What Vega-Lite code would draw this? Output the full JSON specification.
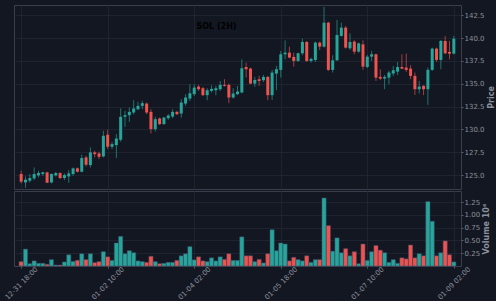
{
"$schema": "https://vega.github.io/schema/vega-lite/v6.json",
"background": "#131722",
"padding": {"left": 2, "top": 4, "right": 0, "bottom": 0},
"spacing": 0,
"datasets": {"candles": [
{"t":"2024-12-31T18:00","open":125.11,"high":125.47,"low":124.08,"close":124.27,"volume":86000},
{"t":"2024-12-31T20:00","open":124.19,"high":124.85,"low":123.61,"close":124.49,"volume":330000},
{"t":"2024-12-31T22:00","open":124.38,"high":125.11,"low":124.19,"close":124.67,"volume":46000},
{"t":"2025-01-01T00:00","open":124.63,"high":125.83,"low":124.45,"close":125.11,"volume":100000},
{"t":"2025-01-01T02:00","open":124.96,"high":125.47,"low":124.74,"close":125.22,"volume":53000},
{"t":"2025-01-01T04:00","open":125.11,"high":125.36,"low":124.92,"close":125.29,"volume":53000},
{"t":"2025-01-01T06:00","open":125.29,"high":125.36,"low":124.12,"close":124.16,"volume":33000},
{"t":"2025-01-01T08:00","open":124.19,"high":125.18,"low":124.08,"close":125.11,"volume":125000},
{"t":"2025-01-01T10:00","open":124.96,"high":125.33,"low":124.85,"close":125.22,"volume":20000},
{"t":"2025-01-01T12:00","open":125.22,"high":125.29,"low":124.56,"close":124.67,"volume":20000},
{"t":"2025-01-01T14:00","open":124.67,"high":125.18,"low":124.45,"close":125.0,"volume":80000},
{"t":"2025-01-01T16:00","open":124.85,"high":125.54,"low":124.16,"close":125.18,"volume":220000},
{"t":"2025-01-01T18:00","open":125.11,"high":125.83,"low":124.92,"close":125.73,"volume":90000},
{"t":"2025-01-01T20:00","open":125.73,"high":125.83,"low":125.29,"close":125.36,"volume":110000},
{"t":"2025-01-01T22:00","open":125.36,"high":127.22,"low":125.29,"close":126.86,"volume":240000},
{"t":"2025-01-02T00:00","open":126.93,"high":127.11,"low":125.94,"close":126.13,"volume":125000},
{"t":"2025-01-02T02:00","open":126.09,"high":128.02,"low":125.83,"close":127.48,"volume":240000},
{"t":"2025-01-02T04:00","open":127.48,"high":127.66,"low":126.93,"close":127.29,"volume":66000},
{"t":"2025-01-02T06:00","open":127.37,"high":127.55,"low":126.75,"close":127.0,"volume":86000},
{"t":"2025-01-02T08:00","open":127.04,"high":129.85,"low":126.93,"close":129.3,"volume":280000},
{"t":"2025-01-02T10:00","open":129.41,"high":129.96,"low":127.84,"close":128.1,"volume":180000},
{"t":"2025-01-02T12:00","open":128.1,"high":128.64,"low":127.84,"close":128.39,"volume":110000},
{"t":"2025-01-02T14:00","open":128.28,"high":129.48,"low":126.86,"close":129.0,"volume":450000},
{"t":"2025-01-02T16:00","open":128.86,"high":132.32,"low":128.64,"close":131.38,"volume":580000},
{"t":"2025-01-02T18:00","open":131.38,"high":132.03,"low":130.28,"close":131.56,"volume":240000},
{"t":"2025-01-02T20:00","open":131.56,"high":132.4,"low":130.83,"close":131.92,"volume":300000},
{"t":"2025-01-02T22:00","open":131.85,"high":133.2,"low":131.67,"close":132.29,"volume":260000},
{"t":"2025-01-03T00:00","open":132.21,"high":133.02,"low":132.1,"close":132.58,"volume":100000},
{"t":"2025-01-03T02:00","open":132.58,"high":133.13,"low":132.21,"close":132.87,"volume":86000},
{"t":"2025-01-03T04:00","open":132.83,"high":132.94,"low":131.67,"close":131.85,"volume":72000},
{"t":"2025-01-03T06:00","open":131.92,"high":132.21,"low":129.55,"close":130.03,"volume":190000},
{"t":"2025-01-03T08:00","open":130.03,"high":131.38,"low":129.77,"close":131.12,"volume":86000},
{"t":"2025-01-03T10:00","open":131.2,"high":131.3,"low":130.47,"close":130.58,"volume":46000},
{"t":"2025-01-03T12:00","open":130.58,"high":131.38,"low":130.5,"close":131.3,"volume":53000},
{"t":"2025-01-03T14:00","open":131.23,"high":131.67,"low":131.05,"close":131.52,"volume":72000},
{"t":"2025-01-03T16:00","open":131.41,"high":132.21,"low":131.23,"close":131.92,"volume":72000},
{"t":"2025-01-03T18:00","open":131.92,"high":132.03,"low":131.56,"close":131.67,"volume":110000},
{"t":"2025-01-03T20:00","open":131.74,"high":133.31,"low":131.3,"close":132.94,"volume":200000},
{"t":"2025-01-03T22:00","open":132.83,"high":133.86,"low":132.58,"close":133.49,"volume":240000},
{"t":"2025-01-04T00:00","open":133.38,"high":134.95,"low":133.13,"close":133.96,"volume":380000},
{"t":"2025-01-04T02:00","open":133.86,"high":134.95,"low":133.67,"close":134.58,"volume":120000},
{"t":"2025-01-04T04:00","open":134.69,"high":134.88,"low":134.22,"close":134.4,"volume":180000},
{"t":"2025-01-04T06:00","open":134.51,"high":134.66,"low":133.67,"close":133.75,"volume":100000},
{"t":"2025-01-04T08:00","open":133.75,"high":134.51,"low":133.2,"close":134.29,"volume":86000},
{"t":"2025-01-04T10:00","open":134.22,"high":134.84,"low":134.04,"close":134.44,"volume":160000},
{"t":"2025-01-04T12:00","open":134.29,"high":134.77,"low":133.75,"close":134.51,"volume":100000},
{"t":"2025-01-04T14:00","open":134.4,"high":135.31,"low":134.22,"close":134.88,"volume":180000},
{"t":"2025-01-04T16:00","open":134.88,"high":135.5,"low":134.7,"close":134.77,"volume":130000},
{"t":"2025-01-04T18:00","open":134.88,"high":135.02,"low":132.87,"close":133.49,"volume":240000},
{"t":"2025-01-04T20:00","open":133.49,"high":134.51,"low":133.38,"close":133.93,"volume":110000},
{"t":"2025-01-04T22:00","open":133.86,"high":134.77,"low":133.75,"close":134.15,"volume":110000},
{"t":"2025-01-05T00:00","open":134.04,"high":137.68,"low":133.96,"close":136.7,"volume":570000},
{"t":"2025-01-05T02:00","open":136.84,"high":137.32,"low":135.68,"close":136.59,"volume":200000},
{"t":"2025-01-05T04:00","open":136.66,"high":136.77,"low":134.95,"close":135.02,"volume":200000},
{"t":"2025-01-05T06:00","open":135.02,"high":135.75,"low":134.66,"close":135.42,"volume":86000},
{"t":"2025-01-05T08:00","open":135.5,"high":135.86,"low":134.77,"close":135.31,"volume":130000},
{"t":"2025-01-05T10:00","open":135.39,"high":135.97,"low":135.2,"close":135.75,"volume":60000},
{"t":"2025-01-05T12:00","open":135.75,"high":135.86,"low":133.2,"close":133.75,"volume":240000},
{"t":"2025-01-05T14:00","open":133.75,"high":136.52,"low":133.24,"close":136.23,"volume":710000},
{"t":"2025-01-05T16:00","open":136.12,"high":136.95,"low":134.29,"close":136.59,"volume":300000},
{"t":"2025-01-05T18:00","open":136.52,"high":138.59,"low":135.68,"close":138.23,"volume":450000},
{"t":"2025-01-05T20:00","open":138.23,"high":139.76,"low":137.68,"close":138.41,"volume":430000},
{"t":"2025-01-05T22:00","open":138.41,"high":139.07,"low":137.79,"close":137.87,"volume":100000},
{"t":"2025-01-06T00:00","open":137.94,"high":138.41,"low":136.88,"close":137.5,"volume":170000},
{"t":"2025-01-06T02:00","open":137.5,"high":138.41,"low":137.39,"close":138.34,"volume":125000},
{"t":"2025-01-06T04:00","open":138.34,"high":139.94,"low":138.12,"close":139.58,"volume":100000},
{"t":"2025-01-06T06:00","open":139.58,"high":139.69,"low":137.39,"close":137.5,"volume":200000},
{"t":"2025-01-06T08:00","open":137.5,"high":137.87,"low":137.32,"close":137.72,"volume":72000},
{"t":"2025-01-06T10:00","open":137.61,"high":139.62,"low":137.39,"close":139.51,"volume":125000},
{"t":"2025-01-06T12:00","open":139.51,"high":139.62,"low":138.7,"close":139.07,"volume":125000},
{"t":"2025-01-06T14:00","open":139.07,"high":143.41,"low":138.96,"close":141.69,"volume":1330000},
{"t":"2025-01-06T16:00","open":141.69,"high":141.8,"low":136.41,"close":136.52,"volume":790000},
{"t":"2025-01-06T18:00","open":136.52,"high":138.12,"low":136.23,"close":137.57,"volume":290000},
{"t":"2025-01-06T20:00","open":137.57,"high":141.99,"low":137.5,"close":140.34,"volume":550000},
{"t":"2025-01-06T22:00","open":140.24,"high":141.69,"low":140.16,"close":141.15,"volume":260000},
{"t":"2025-01-07T00:00","open":141.15,"high":141.33,"low":138.85,"close":138.96,"volume":340000},
{"t":"2025-01-07T02:00","open":138.89,"high":140.53,"low":138.7,"close":139.58,"volume":200000},
{"t":"2025-01-07T04:00","open":139.62,"high":139.76,"low":138.23,"close":138.52,"volume":280000},
{"t":"2025-01-07T06:00","open":138.52,"high":139.51,"low":138.41,"close":139.43,"volume":46000},
{"t":"2025-01-07T08:00","open":139.32,"high":139.76,"low":136.52,"close":136.88,"volume":430000},
{"t":"2025-01-07T10:00","open":136.84,"high":138.16,"low":136.7,"close":137.97,"volume":110000},
{"t":"2025-01-07T12:00","open":137.97,"high":138.59,"low":137.5,"close":138.23,"volume":280000},
{"t":"2025-01-07T14:00","open":138.23,"high":138.3,"low":135.31,"close":135.68,"volume":400000},
{"t":"2025-01-07T16:00","open":135.75,"high":136.59,"low":135.42,"close":135.57,"volume":310000},
{"t":"2025-01-07T18:00","open":135.57,"high":135.97,"low":134.4,"close":135.75,"volume":260000},
{"t":"2025-01-07T20:00","open":135.68,"high":136.41,"low":134.95,"close":136.23,"volume":72000},
{"t":"2025-01-07T22:00","open":136.12,"high":136.95,"low":135.86,"close":136.48,"volume":125000},
{"t":"2025-01-08T00:00","open":136.33,"high":137.39,"low":135.97,"close":136.84,"volume":53000},
{"t":"2025-01-08T02:00","open":136.84,"high":138.23,"low":136.59,"close":136.66,"volume":160000},
{"t":"2025-01-08T04:00","open":136.77,"high":138.3,"low":136.3,"close":136.52,"volume":140000},
{"t":"2025-01-08T06:00","open":136.66,"high":137.03,"low":135.5,"close":135.86,"volume":410000},
{"t":"2025-01-08T08:00","open":135.86,"high":136.23,"low":133.78,"close":134.4,"volume":160000},
{"t":"2025-01-08T10:00","open":134.4,"high":135.31,"low":133.93,"close":134.69,"volume":240000},
{"t":"2025-01-08T12:00","open":134.77,"high":134.84,"low":133.75,"close":134.4,"volume":200000},
{"t":"2025-01-08T14:00","open":134.4,"high":136.77,"low":132.69,"close":136.52,"volume":1260000},
{"t":"2025-01-08T16:00","open":136.52,"high":138.96,"low":136.41,"close":138.85,"volume":875000},
{"t":"2025-01-08T18:00","open":138.85,"high":138.96,"low":137.39,"close":137.61,"volume":200000},
{"t":"2025-01-08T20:00","open":137.61,"high":139.8,"low":136.59,"close":139.69,"volume":260000},
{"t":"2025-01-08T22:00","open":139.69,"high":140.24,"low":138.23,"close":138.34,"volume":490000},
{"t":"2025-01-09T00:00","open":138.49,"high":139.69,"low":137.68,"close":138.3,"volume":220000},
{"t":"2025-01-09T02:00","open":138.3,"high":140.24,"low":138.23,"close":139.94,"volume":80000}
]},
"vconcat": [
{
"width": 447, "height": 184,
"title": {"text": "SOL (2H)", "offset": -26, "dx": -21, "fontSize": 8, "fontWeight": "bold", "color": "#000000", "font": "DejaVu Sans"},
"data": {"name": "candles"},
"encoding": {
"x": {"field": "t", "type": "temporal",
"scale": {"domain": [{"year":2024,"month":12,"date":31,"hours":17},{"year":2025,"month":1,"date":9,"hours":3}]},
"axis": {"values": [{"year":2024,"month":12,"date":31,"hours":18},{"year":2025,"month":1,"date":2,"hours":10},{"year":2025,"month":1,"date":4,"hours":2},{"year":2025,"month":1,"date":5,"hours":18},{"year":2025,"month":1,"date":7,"hours":10},{"year":2025,"month":1,"date":9,"hours":2}],
"labels": false, "ticks": false, "title": null, "grid": true}},
"color": {"condition": {"test": "datum.close >= datum.open", "value": "#26a69a"}, "value": "#ef5350"}
},
"layer": [
{"mark": {"type": "rule", "strokeWidth": 1, "opacity": 0.65},
"encoding": {
"y": {"field": "low", "type": "quantitative",
"scale": {"domain": [123.47, 143.63], "nice": false, "zero": false},
"axis": {"orient": "right", "values": [125, 127.5, 130, 132.5, 135, 137.5, 140, 142.5], "format": ".1f", "labelOverlap": false, "title": "Price", "titleAngle": 270, "titleBaseline": "top", "titlePadding": 3, "grid": true}},
"y2": {"field": "high"}}},
{"mark": {"type": "bar", "size": 3},
"encoding": {"y": {"field": "open", "type": "quantitative",
"scale": {"domain": [123.47, 143.63], "nice": false, "zero": false},
"axis": {"orient": "right", "values": [125, 127.5, 130, 132.5, 135, 137.5, 140, 142.5], "format": ".1f", "labelOverlap": false, "title": "Price", "titleAngle": 270, "titleBaseline": "top", "titlePadding": 3, "grid": true}},
"y2": {"field": "close"}}}
]
},
{
"width": 447, "height": 75,
"data": {"name": "candles"},
"mark": {"type": "bar", "size": 4.2, "stroke": "#3d4866", "strokeWidth": 0.5},
"encoding": {
"x": {"field": "t", "type": "temporal",
"scale": {"domain": [{"year":2024,"month":12,"date":31,"hours":17},{"year":2025,"month":1,"date":9,"hours":3}]},
"axis": {"values": [{"year":2024,"month":12,"date":31,"hours":18},{"year":2025,"month":1,"date":2,"hours":10},{"year":2025,"month":1,"date":4,"hours":2},{"year":2025,"month":1,"date":5,"hours":18},{"year":2025,"month":1,"date":7,"hours":10},{"year":2025,"month":1,"date":9,"hours":2}],
"format": "%m-%d %H:%M", "labelAngle": -45, "labelAlign": "center", "labelBaseline": "middle", "labelPadding": 15, "labelOverlap": false, "tickSize": 2, "title": null, "grid": true}},
"y": {"field": "volume", "type": "quantitative",
"scale": {"domain": [0, 1466000], "nice": false},
"axis": {"orient": "right", "values": [250000, 500000, 750000, 1000000, 1250000], "labelExpr": "format(datum.value / 1000000, '.2f')", "labelOverlap": false, "title": "Volume  10⁶", "titleAngle": 270, "titleBaseline": "top", "titlePadding": 3, "grid": true}},
"color": {"condition": {"test": "datum.close >= datum.open", "value": "#26a69a"}, "value": "#ef5350"}
}
}
],
"config": {
"font": "DejaVu Sans",
"view": {"stroke": "#3a3e4a", "strokeWidth": 1},
"axis": {"labelColor": "#8c909b", "titleColor": "#8c909b", "labelFontSize": 7, "titleFontSize": 8, "titleFontWeight": "bold", "gridColor": "#232733", "gridWidth": 0.8, "tickColor": "#5a5e69", "tickSize": 2, "labelPadding": 1, "domain": false}
}
}
